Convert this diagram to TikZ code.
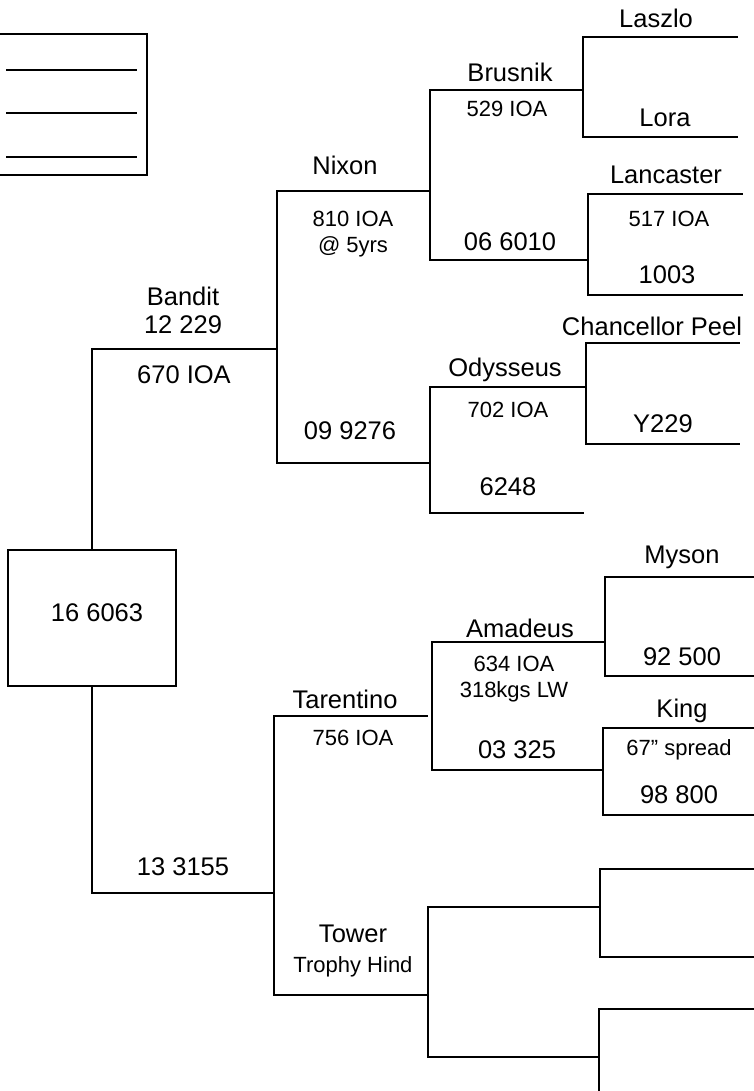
\documentclass[tikz,border=0pt]{standalone}
\usepackage{fontspec}
\setmainfont{Liberation Sans}
\begin{document}
\begin{tikzpicture}[x=1pt,y=-1pt,
  line width=1.4pt, line cap=rect,
  big/.style={font=\fontsize{25.5}{30}\selectfont, anchor=base, inner sep=0pt},
  small/.style={font=\fontsize{22}{26}\selectfont, anchor=base, inner sep=0pt},
  heavy/.style={line width=2.3pt}]
\useasboundingbox (0,0) rectangle (753,1091);

% legend box
\node[draw, heavy, minimum width=154pt, minimum height=141pt, inner sep=0pt] (legend) at (70,104.5) {};
\coordinate (l1a) at (7,70);  \coordinate (l1b) at (136,70);
\coordinate (l2a) at (7,113); \coordinate (l2b) at (136,113);
\coordinate (l3a) at (7,157); \coordinate (l3b) at (136,157);
\draw[line width=1.2pt] (l1a) -- (l1b);
\draw[line width=1.2pt] (l2a) -- (l2b);
\draw[line width=1.2pt] (l3a) -- (l3b);

% root
\node[draw, heavy, minimum width=168pt, minimum height=136pt, inner sep=0pt] (root) at (92,618) {};
\node[big] (rootT) at (97,621) {16 6063};

% coordinates of the bracket ends
\coordinate (bandit) at (277,349);
\coordinate (nixon) at (430,191);
\coordinate (n9276) at (430,463);
\coordinate (brusnik) at (583,90);
\coordinate (b6010) at (588,260);
\coordinate (laszlo) at (737,37);
\coordinate (lora) at (737,137);
\coordinate (lancaster) at (742,194);
\coordinate (l1003) at (742,295);
\coordinate (odysseus) at (586,387);
\coordinate (o6248) at (583,513);
\coordinate (chancellor) at (739,343);
\coordinate (y229) at (739,444);

\coordinate (dam) at (274,893);
\coordinate (tarentino) at (427,716);
\coordinate (tower) at (428,995);
\coordinate (amadeus) at (605,642);
\coordinate (amB) at (432,770);
\coordinate (a325) at (603,770);
\coordinate (myson) at (755,577);
\coordinate (m92500) at (755,676);
\coordinate (king) at (755,728);
\coordinate (k98800) at (755,815);
\coordinate (tT) at (600,907);
\coordinate (tB) at (599,1057);
\coordinate (e1) at (755,869);
\coordinate (e2) at (755,957);
\coordinate (e3) at (755,1009);
\coordinate (e4) at (599,1100);

% upper half
\draw (root.north) |- (bandit);
\draw (nixon) -| (bandit) |- (n9276);
\draw (brusnik) -| (nixon) |- (b6010);
\draw (laszlo) -| (brusnik) |- (lora);
\draw (lancaster) -| (b6010) |- (l1003);
\draw (odysseus) -| (n9276) |- (o6248);
\draw (chancellor) -| (odysseus) |- (y229);

% lower half
\draw (root.south) |- (dam);
\draw (tarentino) -| (dam) |- (tower);
\draw (amadeus) -| (amB) -- (a325);
\draw (myson) -| (amadeus) |- (m92500);
\draw (king) -| (a325) |- (k98800);
\draw (tT) -| (tower) |- (tB);
\draw (e1) -| (tT) |- (e2);
\draw (e3) -| (tB) -- (e4);

% texts upper
\node[big] (tBandit) at (183,305) {Bandit};
\node[big] (t12229) at (183,333) {12 229};
\node[big] (t670) at (184,383) {670 IOA};
\node[big] (tNixon) at (345,175) {Nixon};
\node[small] (t810) at (353,226) {810 IOA};
\node[small] (t5yrs) at (353,252) {@ 5yrs};
\node[big] (t9276) at (350,439) {09 9276};
\node[big] (tBrusnik) at (510,82) {Brusnik};
\node[small] (t529) at (507,117) {529 IOA};
\node[big] (t6010) at (510,251) {06 6010};
\node[big] (tLaszlo) at (656,28) {Laszlo};
\node[big] (tLora) at (665,127) {Lora};
\node[big] (tLancaster) at (666,184) {Lancaster};
\node[small] (t517) at (669,226) {517 IOA};
\node[big] (t1003) at (667,283) {1003};
\node[big] (tChancellor) at (652,335) {Chancellor Peel};
\node[big] (tOdysseus) at (505,376) {Odysseus};
\node[small] (t702) at (508,417) {702 IOA};
\node[big] (tY229) at (663,432) {Y229};
\node[big] (t6248) at (508,495) {6248};

% texts lower
\node[big] (t133155) at (183,875) {13 3155};
\node[big] (tTarentino) at (345,708) {Tarentino};
\node[small] (t756) at (353,745) {756 IOA};
\node[big] (tTower) at (353,942) {Tower};
\node[small] (tTrophy) at (353,972) {Trophy Hind};
\node[big] (tAmadeus) at (520,637) {Amadeus};
\node[small] (t634) at (514,671) {634 IOA};
\node[small] (t318) at (514,697) {318kgs LW};
\node[big] (t03325) at (517,758) {03 325};
\node[big] (tMyson) at (682,563) {Myson};
\node[big] (t92500) at (682,665) {92 500};
\node[big] (tKing) at (682,717) {King};
\node[small] (tSpread) at (679,755) {67” spread};
\node[big] (t98800) at (679,803) {98 800};
\end{tikzpicture}
\end{document}
